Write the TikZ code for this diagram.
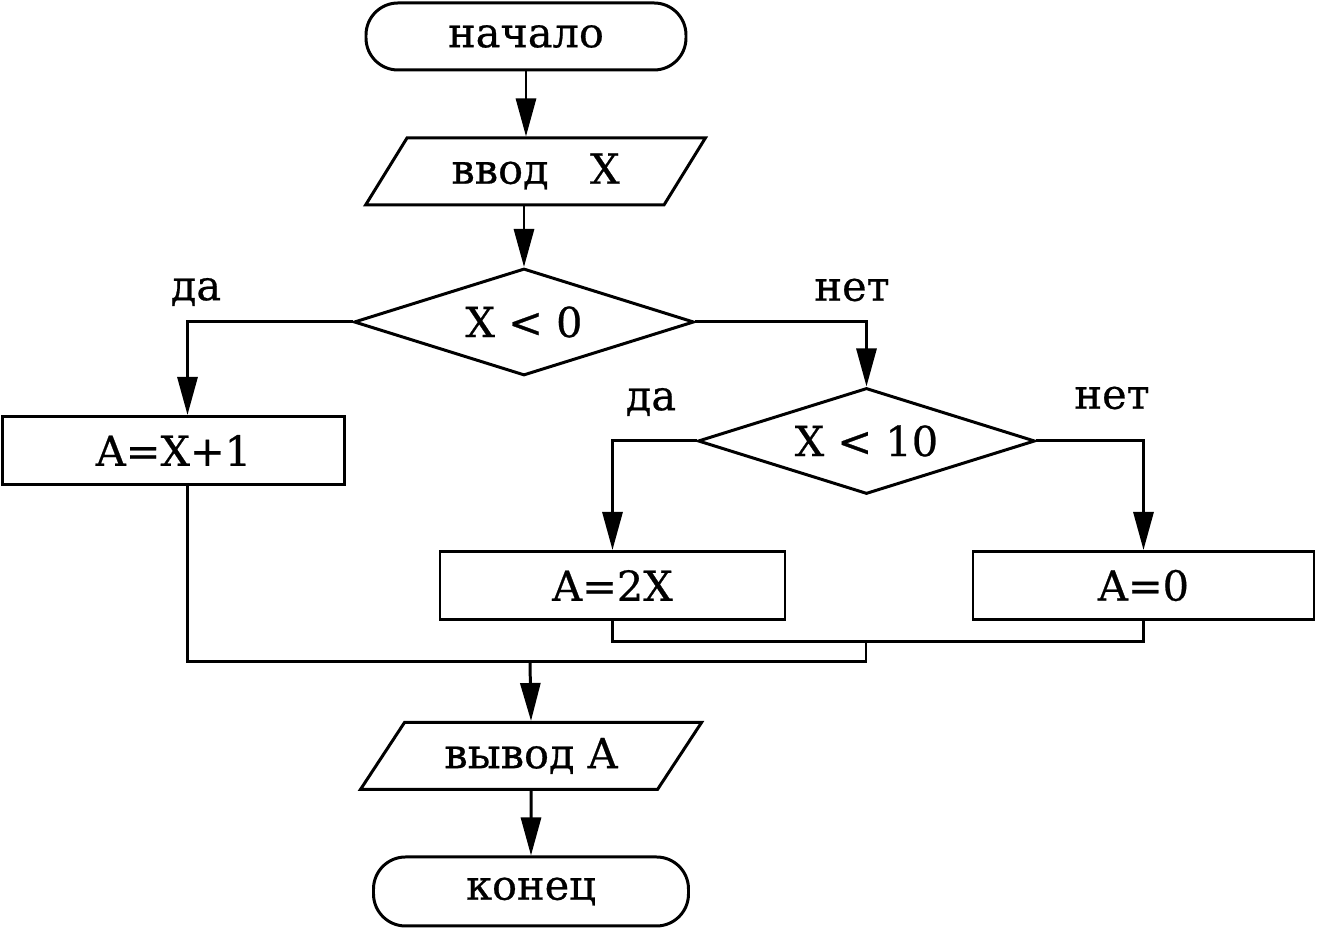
\documentclass[tikz,border=0pt]{standalone}
\usepackage{fontspec}
\setmainfont{DejaVu Serif}[FakeBold=0.6]
\usetikzlibrary{shapes.geometric, arrows.meta}

\begin{document}
\begin{tikzpicture}[
    line width=0.85pt,
    every node/.style={font=\fontsize{11.8}{14}\selectfont},
    term/.style={draw, rectangle, rounded corners=0.32cm, minimum width=3.2cm, minimum height=0.67cm},
    io/.style={draw, trapezium, trapezium left angle=53, trapezium right angle=127,
      trapezium stretches=true, minimum width=3.4cm, minimum height=0.67cm, inner sep=0pt},
    cond/.style={draw, diamond, shape aspect=3.2, inner sep=0pt, minimum width=3.4cm, minimum height=1.07cm},
    act/.style={draw, rectangle, minimum width=3.42cm, minimum height=0.68cm},
    conn/.style={-{Triangle[length=0.38cm, width=0.2cm]}}
  ]
      \useasboundingbox (0, 0) rectangle (13.18, 9.30);

      \node[term] (start) at (5.26, 8.935) {начало};
      \node[io] (in) at (5.355, 7.585) {ввод\quad X};
      \node[cond] (d1) at (5.24, 6.08) {X < 0};
      \node[act] (a1) at (1.735, 4.795) {A=X+1};
      \node[cond, minimum width=3.37cm, minimum height=1.06cm] (d2) at (8.665, 4.89) {X < 10};
      \node[act, minimum width=3.45cm] (a2) at (6.125, 3.445) {A=2X};
      \node[act, minimum width=3.41cm] (a3) at (11.435, 3.445) {A=0};
      \node[io, trapezium left angle=50, trapezium right angle=130, minimum width=3.42cm] (out) at (5.31, 1.74) {вывод A};
      \node[term, minimum width=3.15cm, minimum height=0.69cm] (stop) at (5.31, 0.385) {конец};

      \node at (1.96, 6.38) {да};
      \node at (8.52, 6.40) {нет};
      \node at (6.51, 5.28) {да};
      \node at (11.12, 5.32) {нет};

      \coordinate (j1) at (8.66, 2.88);
      \coordinate (j2) at (5.30, 2.68);

      \draw[conn] (start.south) -- (start.south |- in.north);
      \draw[conn] (d1.north |- in.south) -- (d1.north);
      \draw[conn] (d1.west) -| ([xshift=0.14cm]a1.north);
      \draw[conn] (d1.east) -| (d2.north);
      \draw[conn] (d2.west) -| (a2.north);
      \draw[conn] (d2.east) -| (a3.north);

      \draw (a2.south) |- (j1) -| (a3.south);
      \draw ([xshift=0.14cm]a1.south) |- (j2) -| (j1);
      \draw[conn] (j2) -- (out.north);
      \draw[conn] (out.south) -- (stop.north);
    \end{tikzpicture}
\end{document}
